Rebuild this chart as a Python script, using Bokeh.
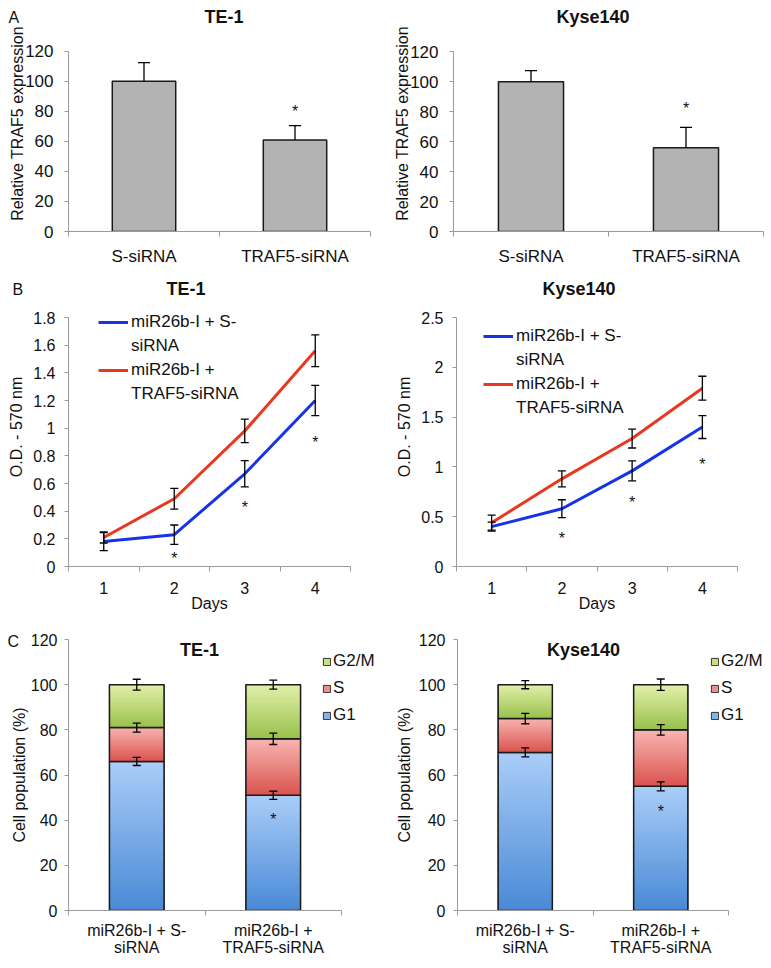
import numpy as np
from bokeh.plotting import figure
from bokeh.models import (Range1d, FixedTicker, Whisker, TeeHead, ColumnDataSource,
                          Legend, LegendItem, Label, Title)
from bokeh.layouts import column, row
from bokeh.embed import file_html
from bokeh.resources import INLINE
from bokeh.core.properties import value

FONT = "Liberation Sans"
AXIS_GRAY = "#9A9A9A"
TXT = "#111111"

# ---------------- Panel A data ----------------
a_categories = ["S-siRNA", "TRAF5-siRNA"]
a_te1_expr = [100, 61]
a_te1_err = [12.5, 9.5]
a_kyse_expr = [100, 56]
a_kyse_err = [7.5, 13.5]
a_star_index = [2]
a_te1_star_y = [80]
a_kyse_star_y = [82]
a_yticks = [0, 20, 40, 60, 80, 100, 120]

# ---------------- Panel B data ----------------
days = [1, 2, 3, 4]
b_series = ["miR26b-I + S-\nsiRNA", "miR26b-I +\nTRAF5-siRNA"]
b_te1_s = [0.18, 0.23, 0.67, 1.20]
b_te1_s_err = [0.065, 0.07, 0.095, 0.11]
b_te1_t = [0.21, 0.49, 0.98, 1.56]
b_te1_t_err = [0.04, 0.075, 0.085, 0.115]
b_te1_star_days = [2, 3, 4]
b_te1_star_y = [0.055, 0.425, 0.895]
b_te1_yticks = [0, 0.2, 0.4, 0.6, 0.8, 1.0, 1.2, 1.4, 1.6, 1.8]
b_te1_ylabels = ["0", "0.2", "0.4", "0.6", "0.8", "1", "1.2", "1.4", "1.6", "1.8"]
b_kyse_s = [0.40, 0.58, 0.96, 1.40]
b_kyse_s_err = [0.045, 0.09, 0.10, 0.115]
b_kyse_t = [0.44, 0.88, 1.285, 1.79]
b_kyse_t_err = [0.075, 0.08, 0.095, 0.12]
b_kyse_star_days = [2, 3, 4]
b_kyse_star_y = [0.285, 0.645, 1.025]
b_kyse_yticks = [0, 0.5, 1.0, 1.5, 2.0, 2.5]
b_kyse_ylabels = ["0", "0.5", "1", "1.5", "2", "2.5"]

# ---------------- Panel C data ----------------
c_categories = ["miR26b-I + S-\nsiRNA", "miR26b-I +\nTRAF5-siRNA"]
phases = ["G1", "S", "G2/M"]
c_te1_g1 = [66, 51]
c_te1_s = [15, 25]
c_te1_g2m = [19, 24]
c_te1_g1_err = [1.8, 1.8]
c_te1_s_err = [2.0, 2.5]
c_te1_g2m_err = [2.4, 2.0]
c_te1_star_index = [2]
c_te1_star_y = [40.5]
c_kyse_g1 = [70, 55]
c_kyse_s = [15, 25]
c_kyse_g2m = [15, 20]
c_kyse_g1_err = [2.0, 2.0]
c_kyse_s_err = [2.3, 2.3]
c_kyse_g2m_err = [1.8, 2.5]
c_kyse_star_index = [2]
c_kyse_star_y = [44]
c_yticks = [0, 20, 40, 60, 80, 100, 120]

# colours (top, bottom of gradient) and flat legend colour
phase_top = {"G1": "#AACDF8", "S": "#F9B6B3", "G2/M": "#E3F1AC"}
phase_bottom = {"G1": "#4A8AD6", "S": "#DA544F", "G2/M": "#99C14C"}
phase_flat = {"G1": "#84B3EC", "S": "#EE8E8A", "G2/M": "#C6DF80"}
BLUE = "#1633E8"
RED = "#E8381F"


def make_fig(w, h, L, frame_top, axis_top, axis_bottom, ymax, xn, axis_right, x_right_px=None):
    """Frame spans frame_top..axis_bottom (figure px); value ymax sits at axis_top."""
    per = ymax / (axis_bottom - axis_top)
    y_end = ymax + (axis_top - frame_top) * per
    x_end = xn + 0.5
    right = axis_right
    if x_right_px is not None:
        per_x = xn / (axis_right - L)
        x_end = xn + 0.5 + (x_right_px - axis_right) * per_x
        right = x_right_px
    p = figure(width=w, height=h, x_range=Range1d(0.5, x_end), y_range=Range1d(0, y_end),
               output_backend="svg", toolbar_location=None, title=None,
               min_border_left=L, min_border_right=w - right,
               min_border_top=frame_top, min_border_bottom=h - axis_bottom)
    p.xgrid.visible = False
    p.ygrid.visible = False
    p.outline_line_color = None
    p.background_fill_color = "white"
    p.border_fill_color = "white"
    return p


def style_axes(p, xticks, xlabels, yticks, ylabels, ymax, fs, ylabel, xlabel=None,
               xstand=10, ystand=6, ytick_stand=2, xlab_stand=0, xfs=None, yfs=None):
    xa = p.xaxis[0]
    xminor = [t - 0.5 for t in xticks] + [xticks[-1] + 0.5]
    xa.ticker = FixedTicker(ticks=xticks, minor_ticks=xminor)
    xa.major_label_overrides = {t: l for t, l in zip(xticks, xlabels)}
    xa.bounds = (0.5, xticks[-1] + 0.5)
    xa.major_tick_out = 0
    xa.major_tick_in = 0
    xa.minor_tick_out = 5
    xa.minor_tick_in = 0
    xa.major_label_standoff = xstand
    ya = p.yaxis[0]
    ya.ticker = FixedTicker(ticks=yticks, minor_ticks=[])
    ya.major_label_overrides = {t: l for t, l in zip(yticks, ylabels)}
    ya.bounds = (0, ymax)
    ya.major_tick_out = 4
    ya.major_tick_in = 0
    ya.minor_tick_out = 0
    ya.minor_tick_in = 0
    ya.major_label_standoff = ytick_stand
    ya.axis_label = ylabel
    ya.axis_label_standoff = ystand
    if xlabel:
        xa.axis_label = xlabel
        xa.axis_label_standoff = xlab_stand
    for ax in (xa, ya):
        ax.axis_line_color = AXIS_GRAY
        ax.major_tick_line_color = AXIS_GRAY
        ax.minor_tick_line_color = AXIS_GRAY
        ax.major_label_text_font = FONT
        ax.major_label_text_font_size = fs
        ax.major_label_text_color = TXT
        ax.axis_label_text_font = FONT
        ax.axis_label_text_font_style = "normal"
        ax.axis_label_text_font_size = fs
        ax.axis_label_text_color = TXT
    if xfs:
        xa.major_label_text_font_size = xfs
    if yfs:
        ya.major_label_text_font_size = yfs


def top_title(p, text, offset, bold=True, fs=18):
    # zero-height title drawn across the frame top edge
    h = 20 if bold else 18
    p.add_layout(Title(text=text, align="left", offset=offset, vertical_align="bottom",
                       standoff=-(2 + h), text_font=FONT, text_font_size=f"{fs}px",
                       text_font_style="bold" if bold else "normal", text_color=TXT), "above")


def stars(p, xs, ys, fs="16px"):
    p.text(x=xs, y=ys, text=["*"] * len(xs), text_font=value(FONT), text_font_size=fs,
           text_align="center", text_baseline="middle", text_color=TXT)


def whisker(p, base, lower, upper, head, lw=1.3, lower_head=True):
    src = ColumnDataSource(dict(base=base, lower=lower, upper=upper))
    p.add_layout(Whisker(base="base", lower="lower", upper="upper", source=src,
                         level="overlay", line_color="black", line_width=lw,
                         upper_head=TeeHead(size=head, line_color="black", line_width=lw),
                         lower_head=TeeHead(size=head, line_color="black", line_width=lw) if lower_head else None))


# ---------------- Panel A ----------------
def panel_a(w, h, L, axis_right, axis_top, axis_bottom, vals, errs, star_y, title, t_off, letter):
    xs = list(range(1, len(a_categories) + 1))
    p = make_fig(w, h, L, 15, axis_top, axis_bottom, 120, len(xs), axis_right)
    style_axes(p, xs, a_categories, a_yticks, [str(t) for t in a_yticks], 120, "16px",
               "Relative TRAF5 expression", xstand=10, ystand=-4, ytick_stand=11,
               xfs="17px", yfs="17px")
    p.vbar(x=xs, top=vals, bottom=0, width=0.42, fill_color="#B3B3B3",
           line_color="#1A1A1A", line_width=1.5)
    whisker(p, xs, vals, [v + e for v, e in zip(vals, errs)], 12, lower_head=False)
    stars(p, [xs[i - 1] for i in a_star_index], star_y)
    top_title(p, title, t_off)
    if letter:
        top_title(p, letter, -60, bold=False, fs=16)
    return p


pA1 = panel_a(385, 268, 68, 370, 51, 232, a_te1_expr, a_te1_err, a_te1_star_y, "TE-1", 136, "A")
pA2 = panel_a(386, 268, 68, 378, 52, 235, a_kyse_expr, a_kyse_err, a_kyse_star_y, "Kyse140", 103, None)


# ---------------- Panel B ----------------
def panel_b(w, h, L, axis_right, ymax, yticks, ylabels, s_vals, s_err, t_vals, t_err,
            star_days, star_y, title, t_off, leg_loc, letter):
    p = make_fig(w, h, L, 19, 49, 298, ymax, len(days), axis_right)
    style_axes(p, days, [str(d) for d in days], yticks, ylabels, ymax, "16px",
               "O.D. - 570 nm", xlabel="Days", xstand=10, ystand=5, ytick_stand=9,
               xlab_stand=-2)
    r_s = p.line(days, s_vals, line_color=BLUE, line_width=3)
    r_t = p.line(days, t_vals, line_color=RED, line_width=3)
    dummy = p.line(x=[], y=[], line_alpha=0)
    whisker(p, days, [v - e for v, e in zip(s_vals, s_err)], [v + e for v, e in zip(s_vals, s_err)], 8)
    whisker(p, days, [v - e for v, e in zip(t_vals, t_err)], [v + e for v, e in zip(t_vals, t_err)], 8)
    stars(p, star_days, star_y)
    items = []
    for r, lab in zip([r_s, r_t], b_series):
        parts = lab.split("\n")
        items.append(LegendItem(label=parts[0], renderers=[r]))
        for part in parts[1:]:
            items.append(LegendItem(label=part, renderers=[dummy]))
    leg = Legend(items=items, location=leg_loc, glyph_width=30, glyph_height=20,
                 label_height=20, spacing=4, padding=0, margin=0, label_standoff=3,
                 border_line_alpha=0, background_fill_alpha=0,
                 label_text_font=FONT, label_text_font_size="17px", label_text_color=TXT)
    p.add_layout(leg)
    top_title(p, title, t_off)
    if letter:
        top_title(p, letter, -56, bold=False, fs=16)
    return p


pB1 = panel_b(385, 347, 68, 350, 1.8, b_te1_yticks, b_te1_ylabels,
              b_te1_s, b_te1_s_err, b_te1_t, b_te1_t_err, b_te1_star_days, b_te1_star_y,
              "TE-1", 98, (30, 162), "B")
pB2 = panel_b(386, 347, 71, 352, 2.5, b_kyse_yticks, b_kyse_ylabels,
              b_kyse_s, b_kyse_s_err, b_kyse_t, b_kyse_t_err, b_kyse_star_days, b_kyse_star_y,
              "Kyse140", 86, (27, 148), None)


# ---------------- Panel C ----------------
def grad_img(top, bottom, n=64):
    t = np.array([int(top[i:i + 2], 16) for i in (1, 3, 5)], float)
    b = np.array([int(bottom[i:i + 2], 16) for i in (1, 3, 5)], float)
    img = np.empty((n, 2), dtype=np.uint32)
    view = img.view(dtype=np.uint8).reshape((n, 2, 4))
    for k in range(n):
        f = k / (n - 1)
        c = b + (t - b) * f
        view[k, :, 0:3] = np.round(c).astype(np.uint8)
        view[k, :, 3] = 255
    return img


def panel_c(w, h, L, axis_right, g1, s, g2m, g1e, se, g2me, star_idx, star_y, title, title_x,
            leg_loc, ystand, ytick_stand, letter):
    xs = list(range(1, len(c_categories) + 1))
    p = make_fig(w, h, L, 24, 24, 295, 120, len(xs), axis_right, x_right_px=w - 5)
    style_axes(p, xs, c_categories, c_yticks, [str(t) for t in c_yticks], 120, "16px",
               "Cell population (%)", xstand=6, ystand=ystand, ytick_stand=ytick_stand,
               xfs="16px")
    p.xaxis[0].major_label_text_line_height = 1.0
    bw = 0.40
    seg_vals = {"G1": g1, "S": s, "G2/M": g2m}
    seg_err = {"G1": g1e, "S": se, "G2/M": g2me}
    bottom = np.zeros(len(xs))
    renderers = {}
    for ph in phases:
        v = np.array(seg_vals[ph], float)
        top = bottom + v
        r = p.vbar(x=xs, bottom=bottom, top=top, width=bw, fill_color=phase_flat[ph],
                   line_color="#333333", line_width=1)
        renderers[ph] = r
        img = grad_img(phase_top[ph], phase_bottom[ph])
        p.image_rgba(image=[img] * len(xs), x=[x - bw / 2 for x in xs], y=list(bottom),
                     dw=[bw] * len(xs), dh=list(v))
        p.vbar(x=xs, bottom=bottom, top=top, width=bw, fill_color=None,
               line_color="#1A1A1A", line_width=1.5)
        e = np.array(seg_err[ph], float)
        whisker(p, xs, list(top - e), list(top + e), 8)
        bottom = top
    stars(p, [xs[i - 1] for i in star_idx], star_y)
    items = [LegendItem(label=ph, renderers=[renderers[ph]]) for ph in reversed(phases)]
    leg = Legend(items=items, location=leg_loc, glyph_width=9, glyph_height=9,
                 label_height=9, spacing=7, padding=0, margin=0, label_standoff=2,
                 border_line_alpha=0, background_fill_alpha=0,
                 label_text_font=FONT, label_text_font_size="17px", label_text_color=TXT)
    p.add_layout(leg)
    p.add_layout(Label(x=title_x, y=261, x_units="screen", y_units="screen", text=title,
                       text_font=FONT, text_font_size="18px", text_font_style="bold",
                       text_color=TXT, text_align="center", text_baseline="middle"))
    if letter:
        top_title(p, letter, -61, bold=False, fs=16)
    return p


pC1 = panel_c(385, 353, 68, 341, c_te1_g1, c_te1_s, c_te1_g2m,
              c_te1_g1_err, c_te1_s_err, c_te1_g2m_err, c_te1_star_index, c_te1_star_y,
              "TE-1", 131, (254, 185), 0, 7, "C")
pC2 = panel_c(386, 353, 72, 343, c_kyse_g1, c_kyse_s, c_kyse_g2m,
              c_kyse_g1_err, c_kyse_s_err, c_kyse_g2m_err, c_kyse_star_index, c_kyse_star_y,
              "Kyse140", 126, (253, 185), 3, 8, None)

layout = column(row(pA1, pA2), row(pB1, pB2), row(pC1, pC2))
open("out.html", "w").write(file_html(layout, INLINE))
